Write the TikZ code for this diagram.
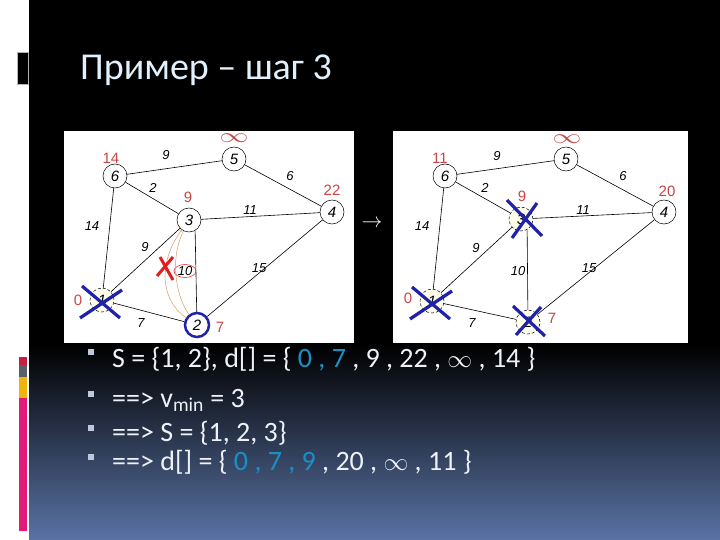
\documentclass[tikz,border=0pt]{standalone}
\usepackage{fontspec}
\setmainfont{Carlito}
\newfontfamily\graphfont{Liberation Sans}
\usetikzlibrary{shapes.geometric}

\definecolor{slideblue}{RGB}{90,115,165}
\definecolor{titlewhite}{RGB}{225,240,250}
\definecolor{textwhite}{RGB}{238,242,248}
\definecolor{pickblue}{RGB}{25,145,200}
\definecolor{distred}{RGB}{200,70,70}
\definecolor{crossblue}{RGB}{30,35,170}
\definecolor{trailorange}{RGB}{215,155,105}
\definecolor{markred}{RGB}{225,30,30}
\definecolor{bulletgray}{RGB}{190,200,220}
\definecolor{barpink}{RGB}{225,25,120}
\definecolor{barred}{RGB}{200,30,70}
\definecolor{bargray}{RGB}{90,95,105}
\definecolor{baryellow}{RGB}{240,180,10}

\begin{document}
\begin{tikzpicture}[x=1pt, y=-1pt,
    vertex/.style={circle, draw, fill=white, minimum size=24pt, inner sep=0pt, line width=0.5pt,
                   font=\graphfont\itshape\fontsize{15}{15}\selectfont},
    visited/.style={vertex, densely dashed, fill=yellow!8},
    weight/.style={inner sep=1pt, font=\graphfont\itshape\fontsize{13}{13}\selectfont},
    dist/.style={inner sep=0pt, text=distred, font=\graphfont\fontsize{15}{15}\selectfont},
    link/.style={line width=0.6pt},
    crossmark/.style={crossblue, line width=3.2pt},
    trail/.style={trailorange, line width=0.5pt},
    bulletbox/.style={fill=bulletgray, minimum size=6pt, inner sep=0pt},
    bullettext/.style={anchor=base west, inner sep=0pt, text=textwhite, font=\fontsize{28}{34}\selectfont}]
    \useasboundingbox (0,0) rectangle (720,540);

    % slide background
    \fill[white] (0,0) rectangle (720,540);
    \fill[black] (29,0) rectangle (720,345);
    \shade[top color=black, bottom color=slideblue] (29,345) rectangle (720,540);
    \fill[black, draw=gray!60] (17,52) rectangle (28,84);
    \fill[barred] (19,357) rectangle (27,365);
    \fill[bargray] (19,365) rectangle (27,377);
    \fill[baryellow] (19,377) rectangle (27,398);
    \fill[barpink] (19,398) rectangle (27,531);

    \node[anchor=base west, inner sep=0pt, text=titlewhite, font=\fontsize{38}{40}\selectfont] (title) at (80,80) {Пример – шаг 3};

    \fill[white] (64,131) rectangle (354,343);
    \fill[white] (393,131) rectangle (688,343);
    \node[text=white, font=\fontsize{20}{20}\selectfont] (step) at (372,224) {$\rightarrow$};

    % left graph
    \node[visited] (l1) at (102,300) {1};
    \node[vertex, draw=crossblue, line width=2.5pt] (l2) at (197,325) {2};
    \node[vertex] (l3) at (189,220) {3};
    \node[vertex] (l4) at (332,212) {4};
    \node[vertex] (l5) at (234,159) {5};
    \node[vertex] (l6) at (115,176) {6};
    \draw[link] (l6) -- (l5) (l5) -- (l4) (l6) -- (l3) (l3) -- (l4) (l6) -- (l1)
                (l1) -- (l3) (l3.-60) -- (l2) (l2) -- (l4) (l1) -- (l2);
    \node[weight] (lw65) at (166,155) {9};
    \node[weight] (lw54) at (290,176) {6};
    \node[weight] (lw63) at (153,188) {2};
    \node[weight] (lw34) at (250,210) {11};
    \node[weight] (lw61) at (92,226) {14};
    \node[weight] (lw13) at (145,247) {9};
    \node[weight] (lw24) at (259,268) {15};
    \node[weight] (lw12) at (141,323) {7};
    \node[weight, ellipse, draw=markred, line width=0.5pt, minimum width=22pt, minimum height=13pt, inner sep=0pt] (lw32) at (185,271) {10};
    \node[dist] (ld1) at (78,300) {0};
    \node[dist] (ld2) at (220,327) {7};
    \node[dist] (ld3) at (188,197) {9};
    \node[dist] (ld4) at (332,190) {22};
    \node[dist] (ld5) at (234,138) {\scalebox{2}[1.4]{$\infty$}};
    \node[dist] (ld6) at (111,158) {14};
    \draw[trail, ->] (l2) .. controls (160,300) and (158,262) .. (l3);
    \draw[trail] (l2) .. controls (178,300) and (168,262) .. (l3);
    \draw[markred, line width=3pt] (160,257) -- (173,280) (173,257) -- (157,276);
    \draw[crossmark] ([shift={(-20,-14)}]l1.center) -- ([shift={(18,18)}]l1.center)
                     ([shift={(-22,18)}]l1.center) -- ([shift={(20,-10)}]l1.center);

    % right graph
    \node[visited] (r1) at (432,301) {1};
    \node[visited] (r2) at (528,322) {2};
    \node[visited] (r3) at (521,219) {3};
    \node[vertex] (r4) at (664,212) {4};
    \node[vertex] (r5) at (566,159) {5};
    \node[vertex] (r6) at (445,176) {6};
    \draw[link] (r6) -- (r5) (r5) -- (r4) (r6) -- (r3) (r3) -- (r4) (r6) -- (r1)
                (r1) -- (r3) (r3.-60) -- (r2) (r2) -- (r4) (r1) -- (r2);
    \node[weight] (rw65) at (497,156) {9};
    \node[weight] (rw54) at (623,176) {6};
    \node[weight] (rw63) at (485,188) {2};
    \node[weight] (rw34) at (583,210) {11};
    \node[weight] (rw61) at (422,226) {14};
    \node[weight] (rw13) at (476,248) {9};
    \node[weight, fill=white] (rw32) at (518,271) {10};
    \node[weight] (rw24) at (589,268) {15};
    \node[weight] (rw12) at (472,323) {7};
    \node[dist] (rd1) at (408,298) {0};
    \node[dist] (rd2) at (552,318) {7};
    \node[dist] (rd3) at (522,196) {9};
    \node[dist] (rd4) at (667,191) {20};
    \node[dist] (rd5) at (567,139) {\scalebox{2}[1.4]{$\infty$}};
    \node[dist] (rd6) at (440,158) {11};
    \draw[crossmark] ([shift={(-20,-14)}]r1.center) -- ([shift={(18,18)}]r1.center)
                     ([shift={(-22,18)}]r1.center) -- ([shift={(20,-10)}]r1.center);
    \draw[crossmark] ([shift={(-14,-19)}]r3.center) -- ([shift={(21,17)}]r3.center)
                     ([shift={(16,-16)}]r3.center) -- ([shift={(-9,19)}]r3.center);
    \draw[crossmark] ([shift={(-15,-16)}]r2.center) -- ([shift={(17,14)}]r2.center)
                     ([shift={(13,-15)}]r2.center) -- ([shift={(-12,13)}]r2.center);

    % bullet list
    \node[bulletbox] (b1) at (91,352) {};
    \node[bullettext] (t1) at (112,367) {S = \{1, 2\}, d[] = \{ \textcolor{pickblue}{0 , 7} , 9 , 22 , $\infty$ , 14 \}};
    \node[bulletbox] (b2) at (91,394) {};
    \node[bullettext] (t2) at (112,407) {==> v\textsubscript{min} = 3};
    \node[bulletbox] (b3) at (91,428) {};
    \node[bullettext] (t3) at (112,441) {==> S = \{1, 2, 3\}};
    \node[bulletbox] (b4) at (91,457) {};
    \node[bullettext] (t4) at (112,470) {==> d[] = \{ \textcolor{pickblue}{0 , 7 , 9} , 20 , $\infty$ , 11 \}};
\end{tikzpicture}
\end{document}
